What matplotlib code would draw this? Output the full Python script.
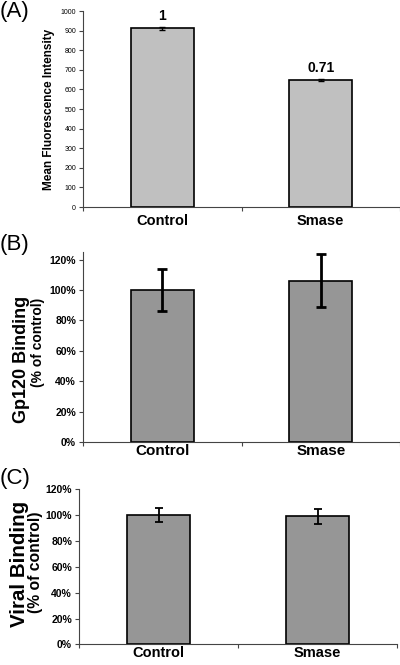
import matplotlib
matplotlib.use('Agg')
import matplotlib.pyplot as plt
from matplotlib.ticker import FuncFormatter

plt.rcParams['font.family'] = ['Liberation Sans', 'DejaVu Sans']

# data
categories = ['Control', 'Smase']

mfi_values = [912, 648]
mfi_errors = [8, 3]
mfi_ratio_labels = ['1', '0.71']

gp120_values = [1.00, 1.062]
gp120_errors = [0.137, 0.175]

viral_values = [1.00, 0.989]
viral_errors = [0.052, 0.058]

mfi_ticks = list(range(0, 1001, 100))
pct_ticks = [0, 0.2, 0.4, 0.6, 0.8, 1.0, 1.2]

fig = plt.figure(figsize=(4.0, 6.65), dpi=100)
x = list(range(len(categories)))


def style_axes(ax, xlab_size, xlab_pad):
    ax.spines['top'].set_visible(False)
    ax.spines['right'].set_visible(False)
    for s in ('left', 'bottom'):
        ax.spines[s].set_color('#444444')
        ax.spines[s].set_linewidth(0.8)
    ax.set_xlim(-0.5, 1.5)
    ax.set_xticks(x)
    ax.set_xticklabels(categories, fontsize=xlab_size, fontweight='bold')
    ax.tick_params(axis='x', which='major', length=0, pad=xlab_pad)
    ax.set_xticks([-0.5, 0.5, 1.5], minor=True)
    ax.tick_params(axis='x', which='minor', length=3, color='#444444', width=0.8)
    ax.tick_params(axis='y', length=3, color='#444444', width=0.8, pad=2)


pct = FuncFormatter(lambda v, p: '%d%%' % round(v * 100))

# (A)
axA = fig.add_axes([0.2075, 0.6887, 0.7925, 0.2947])
axA.bar(x, mfi_values, width=0.4, color='#c0c0c0', edgecolor='black', linewidth=1.2,
        yerr=mfi_errors, capsize=2, error_kw=dict(elinewidth=1, capthick=1))
axA.set_ylim(0, 1000)
axA.set_yticks(mfi_ticks)
axA.tick_params(axis='y', labelsize=5)
axA.set_ylabel('Mean Fluorescence Intensity', fontsize=8.5, fontweight='bold', labelpad=4)
for xi, v, e, lab in zip(x, mfi_values, mfi_errors, mfi_ratio_labels):
    axA.annotate(lab, (xi, v + e), xytext=(0, 3), textcoords='offset points',
                 ha='center', va='bottom', fontsize=10, fontweight='bold')
style_axes(axA, 10.5, 5)
fig.text(0.0, 0.999, '(A)', fontsize=16, va='top', ha='left')

# (B)
axB = fig.add_axes([0.2075, 0.3349, 0.7925, 0.2862])
axB.bar(x, gp120_values, width=0.4, color='#969696', edgecolor='black', linewidth=1.2,
        yerr=gp120_errors, capsize=3.5, error_kw=dict(elinewidth=2, capthick=2))
axB.set_ylim(0, 1.25)
axB.set_yticks(pct_ticks)
axB.yaxis.set_major_formatter(pct)
for t in axB.get_yticklabels():
    t.set_fontweight('bold')
axB.tick_params(axis='y', labelsize=7.5)
style_axes(axB, 11, 1)
fig.text(0.053, 0.4594, 'Gp120 Binding', rotation=90, fontsize=13, fontweight='bold',
         ha='center', va='center')
fig.text(0.095, 0.4857, '(% of control)', rotation=90, fontsize=10, fontweight='bold',
         ha='center', va='center')
fig.text(0.0, 0.6316, '(B)', fontsize=16, va='center', ha='left')

# (C)
axC = fig.add_axes([0.1975, 0.031, 0.795, 0.2335])
axC.bar(x, viral_values, width=0.4, color='#969696', edgecolor='black', linewidth=1.2,
        yerr=viral_errors, capsize=3, error_kw=dict(elinewidth=1.3, capthick=1.3))
axC.set_ylim(0, 1.2)
axC.set_yticks(pct_ticks)
axC.yaxis.set_major_formatter(pct)
for t in axC.get_yticklabels():
    t.set_fontweight('bold')
axC.tick_params(axis='y', labelsize=7.5)
style_axes(axC, 10.5, 1.5)
fig.text(0.048, 0.1526, 'Viral Binding', rotation=90, fontsize=14.8, fontweight='bold',
         ha='center', va='center')
fig.text(0.088, 0.1549, '(% of control)', rotation=90, fontsize=11.3, fontweight='bold',
         ha='center', va='center')
fig.text(0.0, 0.281, '(C)', fontsize=16, va='center', ha='left')

fig.savefig('out.png', dpi=100)
